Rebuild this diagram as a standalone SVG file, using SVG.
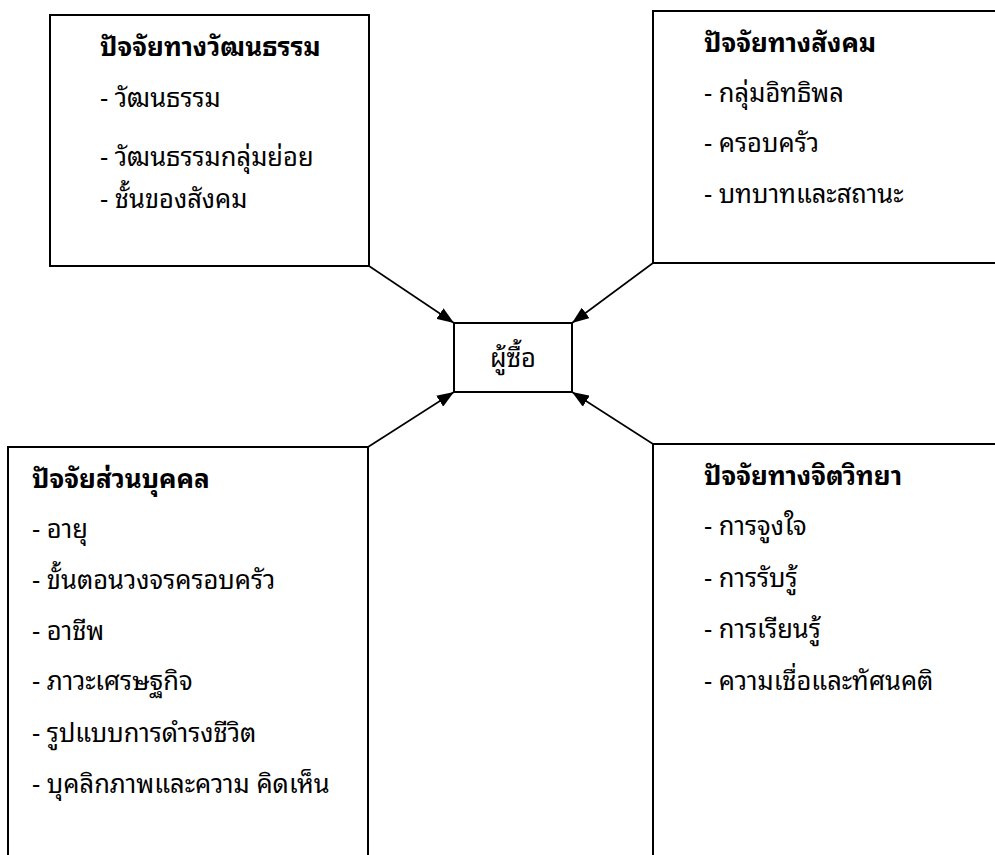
<svg xmlns="http://www.w3.org/2000/svg" width="995" height="855" viewBox="0 0 995 855">
<style>
.box{fill:#fff;stroke:#000;stroke-width:2}
.t{font-family:"Noto Sans Thai Looped","Noto Sans Thai","Noto Sans","Liberation Sans",sans-serif;font-size:25.5px;fill:#000}
.b{font-weight:bold;font-size:26px}
.c{stroke:#000;stroke-width:1.6;fill:none}
</style>
<defs>
<marker id="ah" viewBox="0 0 17 13" refX="17" refY="6.5" markerWidth="17" markerHeight="13" markerUnits="userSpaceOnUse" orient="auto">
<path d="M0,0 L17,6.5 L0,13 Z" fill="#000"/>
</marker>
</defs>
<rect width="995" height="855" fill="#fff"/>
<g id="culture">
<rect class="box" x="50" y="15" width="319" height="251"/>
<text class="t b" x="100" y="56">ปัจจัยทางวัฒนธรรม</text>
<text class="t" x="100" y="107">- วัฒนธรรม</text>
<text class="t" x="100" y="166">- วัฒนธรรมกลุ่มย่อย</text>
<text class="t" x="100" y="208">- ชั้นของสังคม</text>
</g>
<g id="social">
<rect class="box" x="653" y="11" width="400" height="252"/>
<text class="t b" x="704" y="52">ปัจจัยทางสังคม</text>
<text class="t" x="704" y="102">- กลุ่มอิทธิพล</text>
<text class="t" x="704" y="152">- ครอบครัว</text>
<text class="t" x="704" y="203">- บทบาทและสถานะ</text>
</g>
<g id="buyer">
<rect class="box" x="454" y="323" width="118" height="69"/>
<text class="t" x="513" y="367" text-anchor="middle">ผู้ซื้อ</text>
</g>
<g id="personal">
<rect class="box" x="8" y="447" width="360" height="500"/>
<text class="t b" x="32" y="488">ปัจจัยส่วนบุคคล</text>
<text class="t" x="32" y="538">- อายุ</text>
<text class="t" x="32" y="589">- ขั้นตอนวงจรครอบครัว</text>
<text class="t" x="32" y="640">- อาชีพ</text>
<text class="t" x="32" y="690">- ภาวะเศรษฐกิจ</text>
<text class="t" x="32" y="742">- รูปแบบการดำรงชีวิต</text>
<text class="t" x="32" y="793">- บุคลิกภาพและความ คิดเห็น</text>
</g>
<g id="psych">
<rect class="box" x="653" y="444" width="400" height="500"/>
<text class="t b" x="704" y="485">ปัจจัยทางจิตวิทยา</text>
<text class="t" x="704" y="535">- การจูงใจ</text>
<text class="t" x="704" y="587">- การรับรู้</text>
<text class="t" x="704" y="638">- การเรียนรู้</text>
<text class="t" x="704" y="690">- ความเชื่อและทัศนคติ</text>
</g>
<g id="connectors">
<line class="c" x1="369" y1="266" x2="454" y2="323" marker-end="url(#ah)"/>
<line class="c" x1="653" y1="263" x2="572" y2="323" marker-end="url(#ah)"/>
<line class="c" x1="368" y1="447" x2="454" y2="392" marker-end="url(#ah)"/>
<line class="c" x1="653" y1="444" x2="572" y2="392" marker-end="url(#ah)"/>
</g>
</svg>
